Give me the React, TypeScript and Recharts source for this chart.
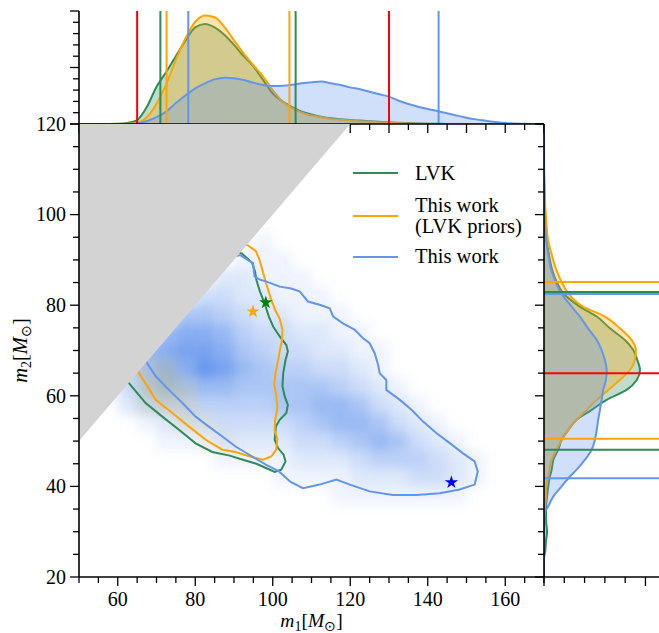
import React from 'react';
import { ComposedChart, Area, Scatter, XAxis, YAxis, ReferenceLine, Legend, Symbols } from 'recharts';

const GREEN = '#2E8B57';
const ORANGE = '#FFA500';
const BLUE = '#6495ED';
const RED = '#FF0000';
const GRAY = '#D3D3D3';
const OLIVE = '#A89B45';
const FONT = '"Liberation Serif", "Times New Roman", serif';

// ticks
const m1Ticks = [50, 55, 60, 65, 70, 75, 80, 85, 90, 95, 100, 105, 110, 115, 120, 125, 130, 135, 140, 145, 150, 155, 160, 165, 170];
const m1Labels = [60, 80, 100, 120, 140, 160];
const m2Ticks = [20, 25, 30, 35, 40, 45, 50, 55, 60, 65, 70, 75, 80, 85, 90, 95, 100, 105, 110, 115, 120];
const m2Labels = [20, 40, 60, 80, 100, 120];
const topDensTicks = [0, 1, 2, 3, 4, 5, 6, 7, 8, 9, 10];
const rightDensTicks = [0, 1, 2, 3, 4, 5, 6];

// marginal of m1 (top panel)
const topM1 = [50, 55, 60, 62.5, 65, 67.5, 70, 72.5, 75, 77.5, 80, 82.5, 85, 87.5, 90, 92.5, 95, 97.5, 100, 102.5, 105, 107.5, 110, 112.5, 115, 117.5, 120, 122.5, 125, 127.5, 130, 132.5, 135, 137.5, 140, 142.5, 145, 147.5, 150, 152.5, 155, 157.5, 160, 165, 170];
const topLvk = [0, 0, 0.03, 0.1, 0.35, 1.5, 3.3, 4.6, 6.0, 7.4, 8.55, 8.85, 8.55, 7.9, 7.0, 6.0, 5.1, 3.9, 2.7, 2.0, 1.5, 1.1, 0.85, 0.65, 0.5, 0.42, 0.35, 0.3, 0.25, 0.2, 0.15, 0.11, 0.08, 0.05, 0.03, 0.02, 0.01, 0, 0, 0, 0, 0, 0, 0, 0];
const topLvkPriors = [0, 0, 0, 0.02, 0.1, 0.6, 1.8, 3.5, 5.7, 7.6, 9.05, 9.6, 9.45, 8.6, 7.4, 6.25, 5.2, 4.2, 3.0, 2.0, 1.4, 1.0, 0.75, 0.6, 0.45, 0.37, 0.3, 0.25, 0.2, 0.16, 0.12, 0.08, 0.05, 0.03, 0.02, 0.01, 0, 0, 0, 0, 0, 0, 0, 0, 0];
const topThisWork = [0, 0, 0, 0, 0.05, 0.25, 0.6, 1.1, 1.85, 2.55, 3.15, 3.6, 3.95, 4.1, 4.05, 3.9, 3.65, 3.45, 3.36, 3.39, 3.48, 3.6, 3.7, 3.77, 3.6, 3.45, 3.24, 3.07, 2.86, 2.63, 2.42, 2.06, 1.77, 1.53, 1.33, 1.15, 0.95, 0.74, 0.56, 0.41, 0.29, 0.17, 0.08, 0.02, 0];

// marginal of m2 (right panel)
const rightM2 = [20, 24, 26, 28, 30, 32, 34, 35.6, 37.8, 40, 41.8, 43.7, 45.9, 48.1, 50.3, 52.5, 54.7, 56.9, 59.1, 61.3, 63.5, 65.7, 67.9, 70.1, 72.3, 74.9, 77.5, 79.7, 82.7, 85.1, 88, 91, 94.4, 98, 102, 106, 110, 120];
const rightLvk = [0, 0, 0.07, 0.1, 0.15, 0.11, 0.1, 0.1, 0.15, 0.21, 0.27, 0.38, 0.46, 0.7, 0.87, 1.2, 1.61, 2.35, 3.09, 4.07, 4.57, 4.73, 4.6, 4.4, 3.99, 3.25, 2.6, 1.77, 0.94, 0.63, 0.39, 0.25, 0.13, 0.07, 0.04, 0.015, 0, 0];
const rightLvkPriors = [0, 0, 0, 0, 0, 0, 0.02, 0.05, 0.1, 0.12, 0.2, 0.27, 0.38, 0.63, 0.87, 1.2, 1.61, 2.1, 2.6, 3.17, 3.74, 4.24, 4.48, 4.53, 4.32, 3.74, 3.0, 1.92, 1.18, 0.87, 0.59, 0.39, 0.2, 0.12, 0.06, 0.03, 0.01, 0];
const rightThisWork = [0, 0, 0, 0, 0, 0, 0.02, 0.21, 0.46, 0.87, 1.2, 1.61, 2.02, 2.35, 2.51, 2.6, 2.67, 2.76, 2.84, 2.92, 3.05, 3.09, 3.0, 2.84, 2.6, 2.17, 1.77, 1.36, 0.84, 0.58, 0.34, 0.22, 0.1, 0.05, 0.02, 0.01, 0, 0];

// interval bounds
const massGap = [65, 130];
const m1Lvk = [71.0, 105.9];
const m1LvkPriors = [72.6, 104.3];
const m1ThisWork = [78.2, 142.8];
const m2Lvk = [48.1, 82.9];
const m2LvkPriors = [50.5, 85.1];
const m2ThisWork = [41.8, 82.5];

// 90% contours (m1, m2)
const lvkContour: [number, number][] = [
  [91.9, 91.5], [93.6, 90.2], [94.7, 89.3], [95.4, 87.5], [95.8, 85.5], [96.7, 83.0], [97.9, 80.4], [99.0, 77.5],
  [100.1, 75.3], [101.8, 73.1], [103.5, 71.2], [103.9, 69.8], [103.3, 67.9], [102.7, 65.0], [102.5, 62.1], [103.1, 59.8],
  [103.9, 58.0], [103.5, 56.2], [101.8, 54.7], [100.8, 53.2], [100.5, 50.3], [101.4, 48.4], [102.8, 47.0], [103.3, 45.5],
  [102.2, 43.7], [100.5, 43.2], [98.4, 44.0], [95.8, 45.0], [92.3, 45.9], [88.9, 46.8], [84.4, 47.6], [80.1, 49.5],
  [75.8, 52.5], [71.5, 55.4], [67.2, 58.4], [62.9, 62.8], [58, 68], [66, 82], [80, 92], [91.9, 91.5],
];
const lvkPriorsContour: [number, number][] = [
  [93.4, 93.3], [95.6, 92.0], [96.6, 90.0], [97.3, 87.8], [98.4, 84.5], [99.5, 81.5], [100.6, 79.0], [101.8, 77.0],
  [102.5, 74.6], [102.4, 72.4], [101.9, 70.3], [101.3, 67.5], [100.7, 65.0], [100.4, 62.5], [100.9, 60.0], [101.2, 57.5],
  [100.6, 54.5], [100.5, 52.3], [101.2, 50.5], [100.9, 48.1], [99.6, 46.6], [97.5, 45.9], [94.1, 46.6], [90.4, 47.6],
  [87.0, 48.1], [82.7, 50.3], [78.4, 53.2], [74.1, 56.2], [69.8, 59.1], [65.5, 65.0], [60, 72], [70, 86], [85, 95], [93.4, 93.3],
];
const thisWorkContour: [number, number][] = [
  [91.5, 91.1], [93.5, 90.0], [94.9, 89.3], [95.3, 86.3], [96.8, 85.6], [98.4, 85.2], [101.8, 84.1], [104.8, 83.7],
  [107.0, 83.0], [109.1, 80.8], [112.1, 80.1], [114.7, 79.3], [115.6, 77.5], [118.1, 76.0], [121.1, 74.6], [123.3, 72.7],
  [125.0, 71.6], [126.3, 69.4], [127.2, 66.8], [127.6, 65.0], [129.3, 63.5], [129.3, 61.3], [132.8, 59.1], [135.8, 56.9],
  [138.8, 54.3], [142.2, 51.8], [145.6, 49.6], [149.1, 47.3], [152.1, 45.5], [152.9, 43.3], [152.1, 40.4], [148.2, 39.3],
  [143.1, 38.5], [137.1, 38.1], [131.0, 38.1], [125.0, 38.9], [119.9, 40.4], [116.4, 41.5], [112.1, 40.4], [107.8, 39.6],
  [104.6, 41.0], [101.6, 43.3], [98.2, 44.8], [94.7, 46.6], [90.4, 48.8], [87.0, 51.0], [83.5, 53.2], [80.1, 55.4],
  [76.7, 58.4], [73.2, 61.3], [69.8, 64.3], [67.6, 67.2], [64, 74], [78, 88], [91.5, 91.1],
];

// max-likelihood points
const starLvk = [98.2, 80.6];
const starLvkPriors = [94.9, 78.6];
const starThisWork = [146.1, 40.9];

// 2D histogram of "This work" (bin lower edges, intensity 0-9)
const heatM1 = [60, 65, 70, 75, 80, 85, 90, 95, 100, 105, 110, 115, 120, 125, 130, 135, 140, 145, 150, 155];
const heatM2 = [92, 88, 84, 80, 76, 72, 68, 64, 60, 56, 52, 48, 44, 40, 36];
const heatThisWork = [
  [0, 0, 0, 0, 0, 0, 0, 1, 0, 0, 0, 0, 0, 0, 0, 0, 0, 0, 0, 0],
  [0, 0, 0, 0, 0, 0, 1, 1, 1, 0, 0, 0, 0, 0, 0, 0, 0, 0, 0, 0],
  [0, 0, 0, 0, 0, 2, 2, 1, 1, 1, 0, 0, 0, 0, 0, 0, 0, 0, 0, 0],
  [0, 0, 0, 0, 3, 3, 2, 2, 1, 1, 1, 0, 0, 0, 0, 0, 0, 0, 0, 0],
  [0, 0, 0, 5, 5, 4, 3, 2, 2, 1, 1, 1, 0, 0, 0, 0, 0, 0, 0, 0],
  [0, 0, 6, 7, 7, 6, 4, 3, 3, 2, 2, 1, 1, 0, 0, 0, 0, 0, 0, 0],
  [0, 6, 7, 8, 8, 7, 5, 4, 3, 3, 2, 2, 1, 1, 0, 0, 0, 0, 0, 0],
  [4, 5, 6, 7, 9, 8, 6, 5, 4, 4, 3, 3, 2, 1, 0, 0, 0, 0, 0, 0],
  [3, 4, 5, 5, 6, 6, 5, 5, 5, 5, 5, 4, 3, 2, 1, 0, 0, 0, 0, 0],
  [2, 3, 3, 3, 4, 4, 4, 4, 5, 5, 6, 6, 5, 3, 2, 1, 0, 0, 0, 0],
  [0, 1, 2, 2, 2, 3, 3, 3, 3, 4, 5, 6, 6, 5, 3, 2, 1, 0, 0, 0],
  [0, 0, 1, 1, 1, 2, 2, 2, 2, 3, 3, 4, 5, 6, 5, 3, 2, 1, 0, 0],
  [0, 0, 0, 0, 0, 1, 1, 1, 1, 2, 2, 2, 3, 4, 4, 4, 3, 2, 1, 0],
  [0, 0, 0, 0, 0, 0, 0, 0, 1, 1, 1, 1, 2, 2, 2, 3, 3, 2, 1, 0],
  [0, 0, 0, 0, 0, 0, 0, 0, 0, 0, 0, 1, 1, 1, 1, 1, 1, 1, 0, 0],
];
// visible part of the LVK histograms near the m1 = m2 edge: [m1 low, m2 low, intensity]
const heatLvk = [[65, 56, 2], [65, 60, 3], [65, 64, 2], [70, 56, 3], [70, 60, 4], [70, 64, 3], [75, 52, 2], [75, 56, 3], [75, 60, 2], [80, 48, 1], [80, 52, 2], [85, 48, 1]];

// region m2 > m1
const excludedRegion = [{ x: 50, band: [50, 120] }, { x: 120, band: [120, 120] }];

const legendRows = [
  { lines: ['LVK'], color: GREEN },
  { lines: ['This work', '(LVK priors)'], color: ORANGE },
  { lines: ['This work'], color: BLUE },
];

const PLOT_W = 465;
const PLOT_H = 453;
const CELL_W = (PLOT_W / 120) * 5;
const CELL_H = (PLOT_H / 100) * 4;

const topData = topM1.map((m1, i) => ({ m1, lvk: topLvk[i], lvkp: topLvkPriors[i], tw: topThisWork[i] }));
const rightData = rightM2.map((m2, i) => ({ m2, lvk: rightLvk[i], lvkp: rightLvkPriors[i], tw: rightThisWork[i] }));
const blueCells = heatM2.flatMap((lo2, r) =>
  heatM1.map((lo1, c) => ({ x: lo1 + 2.5, y: lo2 + 2, v: heatThisWork[r][c] })).filter((d) => d.v > 0)
);
const oliveCells = heatLvk.map(([lo1, lo2, v]) => ({ x: lo1 + 2.5, y: lo2 + 2, v }));
const toPts = (c: [number, number][]) => c.map(([x, y]) => ({ x, y }));

const spine = { stroke: '#000', strokeWidth: 1.6 };

function makeTick(side: 'bottom' | 'left', isMajor: (v: number) => boolean, labels: number[] = []) {
  return (props: any) => {
    const { x, y, payload } = props;
    const v = payload.value as number;
    const len = isMajor(v) ? 9 : 6;
    const show = labels.includes(v);
    if (side === 'bottom') {
      return (
        <g>
          <line x1={x} x2={x} y1={y} y2={y + len} stroke="#000" strokeWidth={1.3} />
          {show && (
            <text x={x} y={y + 28.5} textAnchor="middle" fontSize={20} fontFamily={FONT} fill="#000">{v}</text>
          )}
        </g>
      );
    }
    return (
      <g>
        <line x1={x} x2={x - len} y1={y} y2={y} stroke="#000" strokeWidth={1.3} />
        {show && (
          <text x={x - 13} y={y} dy="0.34em" textAnchor="end" fontSize={20} fontFamily={FONT} fill="#000">{v}</text>
        )}
      </g>
    );
  };
}

const MassTitle = ({ idx }: { idx: string }) => (
  <>
    <tspan fontStyle="italic">m</tspan>
    <tspan fontSize={14} dy={4}>{idx}</tspan>
    <tspan dy={-4}>[</tspan>
    <tspan fontStyle="italic">M</tspan>
    <tspan fontSize={14} dy={4}>⊙</tspan>
    <tspan dy={-4}>]</tspan>
  </>
);

const heatCell = (color: string, alpha: number) => (p: any) => (
  <rect
    x={p.cx - CELL_W / 2}
    y={p.cy - CELL_H / 2}
    width={CELL_W}
    height={CELL_H}
    fill={color}
    fillOpacity={Math.min(1, p.payload.v * alpha)}
  />
);
const noMarker = () => <g />;
const starShape = (color: string) => (p: any) => <Symbols cx={p.cx} cy={p.cy} type="star" size={55} fill={color} />;

const LegendBox = () => (
  <div style={{ fontFamily: FONT, fontSize: 20.5, lineHeight: '21.5px', color: '#000' }}>
    {legendRows.map((row, i) => (
      <div key={i} style={{ display: 'flex', alignItems: 'center', marginBottom: i === 0 ? 10.5 : 8.5 }}>
        <div style={{ width: 45, height: 2.2, background: row.color, marginRight: 17 }} />
        <div>
          {row.lines.map((t) => (
            <div key={t} style={{ whiteSpace: 'nowrap' }}>{t}</div>
          ))}
        </div>
      </div>
    ))}
  </div>
);

function TopPanel() {
  return (
    <ComposedChart width={560} height={140} data={topData} margin={{ top: 11, right: 16, bottom: 0, left: 0 }}>
      <Area dataKey="lvk" type="monotone" stroke={GREEN} strokeWidth={2} fill={GREEN} fillOpacity={0.3} dot={false} activeDot={false} isAnimationActive={false} />
      <Area dataKey="lvkp" type="monotone" stroke={ORANGE} strokeWidth={2} fill={ORANGE} fillOpacity={0.3} dot={false} activeDot={false} isAnimationActive={false} />
      <Area dataKey="tw" type="monotone" stroke={BLUE} strokeWidth={2} fill={BLUE} fillOpacity={0.3} dot={false} activeDot={false} isAnimationActive={false} />
      {massGap.map((v) => <ReferenceLine key={'r' + v} x={v} stroke={RED} strokeWidth={2} />)}
      {m1Lvk.map((v) => <ReferenceLine key={'g' + v} x={v} stroke={GREEN} strokeWidth={2} />)}
      {m1LvkPriors.map((v) => <ReferenceLine key={'o' + v} x={v} stroke={ORANGE} strokeWidth={2} />)}
      {m1ThisWork.map((v) => <ReferenceLine key={'b' + v} x={v} stroke={BLUE} strokeWidth={2} />)}
      <XAxis type="number" dataKey="m1" domain={[50, 170]} allowDataOverflow ticks={m1Ticks} interval={0} tickSize={0} tickMargin={0} tickLine={false} tick={makeTick('bottom', (v) => v % 10 === 0)} axisLine={spine} height={16} />
      <XAxis xAxisId="top" orientation="top" type="number" domain={[50, 170]} tick={false} tickLine={false} axisLine={spine} height={0} />
      <YAxis type="number" domain={[0, 10]} allowDataOverflow ticks={topDensTicks} interval={0} tickSize={0} tickMargin={0} tickLine={false} tick={makeTick('left', (v) => v % 5 === 0)} axisLine={spine} width={79} />
      <YAxis yAxisId="right" orientation="right" type="number" domain={[0, 10]} tick={false} tickLine={false} axisLine={spine} width={0} />
    </ComposedChart>
  );
}

function MainPanel() {
  const contours = [
    { pts: lvkContour, color: GREEN },
    { pts: lvkPriorsContour, color: ORANGE },
    { pts: thisWorkContour, color: BLUE },
  ];
  return (
    <ComposedChart width={560} height={533} data={excludedRegion} margin={{ top: 24, right: 16, bottom: 0, left: 0 }}>
      <Scatter data={blueCells} shape={heatCell(BLUE, 0.11)} className="heat-layer" isAnimationActive={false} zIndex={100} />
      <Scatter data={oliveCells} shape={heatCell(OLIVE, 0.08)} className="heat-layer" isAnimationActive={false} zIndex={110} />
      {contours.map((c, i) => (
        <Scatter key={i} data={toPts(c.pts)} line={{ stroke: c.color, strokeWidth: 2 }} lineType="joint" shape={noMarker} isAnimationActive={false} zIndex={300} />
      ))}
      <Area dataKey="band" type="linear" stroke="none" fill={GRAY} fillOpacity={1} dot={false} activeDot={false} isAnimationActive={false} zIndex={450} />
      <Scatter data={[{ x: starLvk[0], y: starLvk[1] }]} shape={starShape('#008000')} isAnimationActive={false} zIndex={650} />
      <Scatter data={[{ x: starLvkPriors[0], y: starLvkPriors[1] }]} shape={starShape(ORANGE)} isAnimationActive={false} zIndex={650} />
      <Scatter data={[{ x: starThisWork[0], y: starThisWork[1] }]} shape={starShape('#0000FF')} isAnimationActive={false} zIndex={650} />
      <XAxis
        type="number"
        dataKey="x"
        domain={[50, 170]}
        allowDataOverflow
        ticks={m1Ticks}
        interval={0}
        tickSize={0}
        tickMargin={0}
        tickLine={false}
        tick={makeTick('bottom', (v) => v % 20 === 0, m1Labels)}
        axisLine={spine}
        height={56}
        label={{
          content: (p: any) => {
            const vb = p.viewBox || { x: 79, y: 477, width: 465 };
            return (
              <text x={vb.x + vb.width / 2} y={vb.y + 50} textAnchor="middle" fontSize={19.5} fontFamily={FONT} fill="#000">
                <MassTitle idx="1" />
              </text>
            );
          },
        }}
      />
      <XAxis xAxisId="top" orientation="top" type="number" domain={[50, 170]} tick={false} tickLine={false} axisLine={spine} height={0} />
      <YAxis
        type="number"
        dataKey="y"
        domain={[20, 120]}
        allowDataOverflow
        ticks={m2Ticks}
        interval={0}
        tickSize={0}
        tickMargin={0}
        tickLine={false}
        tick={makeTick('left', (v) => v % 20 === 0, m2Labels)}
        axisLine={spine}
        width={79}
        label={{
          content: (p: any) => {
            const vb = p.viewBox || { x: 0, y: 24, height: 453 };
            const cy = vb.y + vb.height / 2;
            return (
              <text x={26.5} y={cy} transform={`rotate(-90 26.5 ${cy})`} textAnchor="middle" fontSize={20.5} fontFamily={FONT} fill="#000">
                <MassTitle idx="2" />
              </text>
            );
          },
        }}
      />
      <Legend
        layout="vertical"
        align="center"
        verticalAlign="middle"
        wrapperStyle={{ left: 353, top: 62.5, width: 200 }}
        content={() => <LegendBox />}
      />
    </ComposedChart>
  );
}

function RightPanel() {
  return (
    <ComposedChart layout="vertical" width={220} height={533} data={rightData} margin={{ top: 24, right: 20, bottom: 0, left: 0 }}>
      <Area dataKey="lvk" type="monotone" stroke={GREEN} strokeWidth={2} fill={GREEN} fillOpacity={0.3} dot={false} activeDot={false} isAnimationActive={false} />
      <Area dataKey="lvkp" type="monotone" stroke={ORANGE} strokeWidth={2} fill={ORANGE} fillOpacity={0.3} dot={false} activeDot={false} isAnimationActive={false} />
      <Area dataKey="tw" type="monotone" stroke={BLUE} strokeWidth={2} fill={BLUE} fillOpacity={0.3} dot={false} activeDot={false} isAnimationActive={false} />
      {massGap.map((v) => <ReferenceLine key={'r' + v} y={v} stroke={RED} strokeWidth={2} />)}
      {m2Lvk.map((v) => <ReferenceLine key={'g' + v} y={v} stroke={GREEN} strokeWidth={2} />)}
      {m2LvkPriors.map((v) => <ReferenceLine key={'o' + v} y={v} stroke={ORANGE} strokeWidth={2} />)}
      {m2ThisWork.map((v) => <ReferenceLine key={'b' + v} y={v} stroke={BLUE} strokeWidth={2} />)}
      <XAxis type="number" domain={[0, 6.21]} allowDataOverflow ticks={rightDensTicks} interval={0} tickSize={0} tickMargin={0} tickLine={false} tick={makeTick('bottom', (v) => v % 5 === 0)} axisLine={spine} height={56} />
      <XAxis xAxisId="top" orientation="top" type="number" domain={[0, 6.21]} tick={false} tickLine={false} axisLine={{ stroke: '#707070', strokeWidth: 1.6 }} height={0} />
      <YAxis type="number" dataKey="m2" domain={[20, 120]} reversed allowDataOverflow ticks={m2Ticks} interval={0} tickSize={0} tickMargin={0} tickLine={false} tick={makeTick('left', (v) => v % 20 === 0)} axisLine={spine} width={74} />
    </ComposedChart>
  );
}

export default function App() {
  return (
    <div style={{ position: 'fixed', left: 0, top: 0, width: 659, height: 633, overflow: 'hidden', background: '#fff' }}>
      <svg width={0} height={0} style={{ position: 'absolute' }}>
        <defs>
          <filter id="heatBlur" x="-10%" y="-10%" width="120%" height="120%">
            <feGaussianBlur stdDeviation="6" />
          </filter>
        </defs>
      </svg>
      <style>{`.heat-layer { filter: url(#heatBlur); }`}</style>
      <div style={{ position: 'absolute', left: 0, top: 0 }}>
        <TopPanel />
      </div>
      <div style={{ position: 'absolute', left: 0, top: 100 }}>
        <MainPanel />
      </div>
      <div style={{ position: 'absolute', left: 470, top: 100 }}>
        <RightPanel />
      </div>
    </div>
  );
}
